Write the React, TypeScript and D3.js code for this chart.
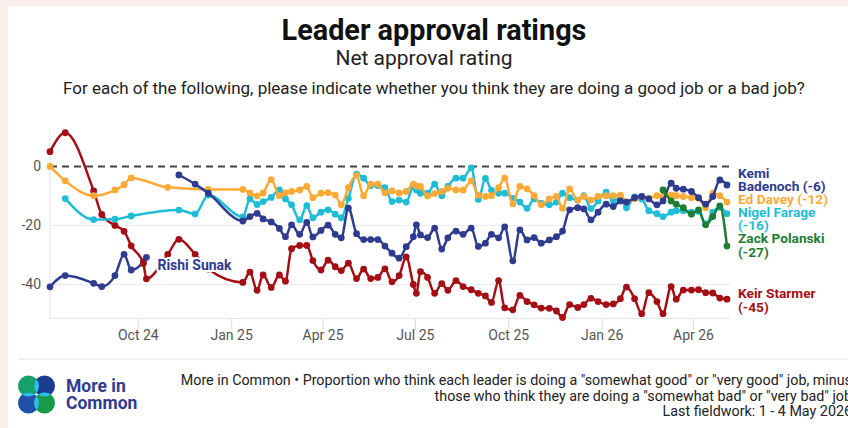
import React from "react";
import * as d3 from "d3";

// poll fieldwork dates (shared by all series)
const pollDates = [
  "2024-07-06", "2024-07-21", "2024-08-18", "2024-08-26", "2024-09-08", "2024-09-17", "2024-09-24",
  "2024-10-06", "2024-10-09", "2024-10-30", "2024-11-10", "2024-11-26", "2024-12-09",
  "2025-01-12", "2025-01-19", "2025-01-26", "2025-02-01", "2025-02-09", "2025-02-17", "2025-02-23",
  "2025-03-01", "2025-03-09", "2025-03-16", "2025-03-22", "2025-03-30", "2025-04-06", "2025-04-13",
  "2025-04-19", "2025-04-26", "2025-05-04", "2025-05-11", "2025-05-18", "2025-05-25", "2025-06-01",
  "2025-06-08", "2025-06-15", "2025-06-22", "2025-06-29", "2025-07-02", "2025-07-06", "2025-07-13",
  "2025-07-20", "2025-07-27", "2025-08-02", "2025-08-10", "2025-08-17", "2025-08-25", "2025-09-01",
  "2025-09-08", "2025-09-14", "2025-09-21", "2025-09-27", "2025-10-05", "2025-10-12", "2025-10-19",
  "2025-10-26", "2025-11-02", "2025-11-10", "2025-11-17", "2025-11-23", "2025-11-30", "2025-12-08",
  "2025-12-14", "2025-12-21", "2025-12-28", "2026-01-05", "2026-01-12", "2026-01-19", "2026-01-25",
  "2026-02-02", "2026-02-09", "2026-02-16", "2026-02-24", "2026-03-02", "2026-03-10", "2026-03-15",
  "2026-03-22", "2026-03-30", "2026-04-06", "2026-04-13", "2026-04-20", "2026-04-27", "2026-05-04",
];

const starmer = [
  5, 11.4, -8.3, -16.3, -20, -22, -26.9, -32.9, -38.1,
  -29.8, -24.7, -29.8, -34.8,
  -39.3, -35.8, -42, -36.8, -41, -36.8, -38.9, -27.9, -26.8, -26.8,
  -31.9, -35.1, -31.8, -34, -35.3, -32.8, -38, -34.8, -38, -37.6,
  -34.7, -39.1, -37, -30.7, -40, -43, -35.7, -37.6, -43, -39.7,
  -42, -38.7, -40.7, -41.8, -43, -43.9, -46.1, -38.7, -47.9, -48.6,
  -43.7, -45.8, -46.9, -48, -48.1, -49, -51.2, -46.8, -47.8, -46.8,
  -44.7, -45.8, -46.8, -46.6, -44.8, -40.9, -44.8, -49.9, -42.8, -45.8,
  -49.9, -40.7, -45, -41.9, -41.9, -41.8, -42.8, -42.9, -44.6, -45,
];

const sunak = [
  -40.8, -37, -39.6, -40.7, -37, -29.8, -35.1, -32.3, -30.8,
  ...Array(74).fill(null),
];

const badenoch = [
  null, null, null, null, null, null, null, null, null, null,
  -2.9, -6, -9.1,
  -18.5, -17, -15.9, -17.8, -18.8, -21, -23.8, -19.8, -23, -19,
  -23.9, -21.7, -19.9, -23, -24.2, -14.1, -22.8, -24.8, -24.8, -24.8,
  -27, -29.4, -31.1, -27.2, -23.8, -19.8, -23.2, -24.1, -20.9, -28,
  -24.2, -21.9, -23, -20.9, -27.1, -26, -23, -24.2, -20.5, -32,
  -21.5, -24.9, -24.1, -26, -24.9, -23.8, -21.9, -14.7, -14, -14.4,
  -18.1, -15.5, -12.8, -13.6, -11.7, -12.1, -10.6, -10.2, -11, -13,
  -11.7, -5.7, -7.4, -7.7, -8.5, -10.6, -12.8, -10.2, -4.6, -6.3,
];

const davey = [
  0, -4.9, -9.9, null, -8, -6.2, -3.9, null, null, -7.1, null, null, -7.8,
  -7.8, -9, -10, -9, -4.5, -9.9, -9, -8.5, -8, -6.8,
  -10.6, -9.1, -8.9, -9.7, -13, -7.2, -3.1, -9.9, -6, -6,
  -9, -8.3, -9, -8.5, -6, -6.6, -6.8, -10, -9.2, -8.5,
  -7.4, -8, -8, -4.9, -9.7, -10.2, -9.9, -7.2, -4, -12.7,
  -6.8, -7.6, -9.9, -13, -11, -10.2, -14.2, -7.6, -11.4, -10.2,
  -11.4, -10.2, -9.9, -9.9, -9.7, -12, -11, -10.2, -10.8, -9.9,
  -10.2, -9.7, -9.9, -10.2, -10.6, -10.8, -14, -9.1, -9.9, -12.1,
];

const farage = [
  null, -10.9, -18, null, -17.9, null, -16.8, null, null, null, -14.8, -16.1, -9.7,
  -17.1, -11, -12.9, -11.9, -10.5, -8, -11, -13, -18.1, -13.3,
  -17.4, -15.5, -14.7, -16.2, -17.4, -10.8, -2.6, -4, -6.5, -6.5,
  -7.2, -11.9, -11.4, -12.1, -6.8, -8, -9.1, -9.1, -6, -9.9,
  -6.8, -4, -4, -0.5, -11.2, -4.1, -8.1, -9.1, -9.1, -10.8,
  -12.1, -14.2, -11, -12.5, -13, -12.1, -9.1, -10.6, -11.4, -9.9,
  -14.3, -11.7, -8.7, -11.7, -10.6, -14, -10.3, -11, -15, -16,
  -17, -15.5, -15, -15, -15.5, -15.3, -19.5, -15.5, -13.9, -16,
];

const polanski = [
  ...Array(73).fill(null),
  -8, -11.7, -12.8, -14, -16.2, -14.7, -19.8, -17, -13.4, -27,
];

const xTickDates = ["2024-10-01", "2025-01-01", "2025-04-01", "2025-07-01", "2025-10-01", "2026-01-01", "2026-04-01"];
const yTicks = [0, -20, -40];

const badenochLabel = ["Kemi", "Badenoch (-6)"];
const daveyLabel = ["Ed Davey (-12)"];
const farageLabel = ["Nigel Farage", "(-16)"];
const polanskiLabel = ["Zack Polanski", "(-27)"];
const starmerLabel = ["Keir Starmer", "(-45)"];

const footerLines = [
  "More in Common \u2022 Proportion who think each leader is doing a \"somewhat good\" or \"very good\" job, minus",
  "those who think they are doing a \"somewhat bad\" or \"very bad\" job",
  "Last fieldwork: 1 - 4 May 2026",
];

const NAVY = "#2e3b8f";
const RED = "#a30f14";
const ORANGE = "#fbaa37";
const CYAN = "#1fbcd6";
const GREEN = "#1e7d32";
const FONT = "Roboto, 'Noto Sans', sans-serif";

const parse = d3.timeParse("%Y-%m-%d");

interface Pt { date: Date; value: number; }

const toPoints = (vals: (number | null)[]): Pt[] =>
  pollDates
    .map((d, i) => ({ date: parse(d) as Date, value: vals[i] as number }))
    .filter((p) => p.value !== null && p.value !== undefined);

const App = () => {
  const width = 848;
  const height = 428;
  const plot = { left: 50, right: 730, top: 131, bottom: 318.4 };

  const x = d3.scaleTime()
    .domain([parse("2024-07-06") as Date, parse("2026-05-07") as Date])
    .range([plot.left, plot.right]);
  const y = d3.scaleLinear().domain([-51.5, 12]).range([plot.bottom, plot.top]);

  const line = d3.line<Pt>()
    .x((d) => x(d.date))
    .y((d) => y(d.value))
    .curve(d3.curveMonotoneX);

  const series = [
    { key: "sunak", color: NAVY, pts: toPoints(sunak) },
    { key: "starmer", color: RED, pts: toPoints(starmer) },
    { key: "farage", color: CYAN, pts: toPoints(farage) },
    { key: "davey", color: ORANGE, pts: toPoints(davey) },
    { key: "badenoch", color: NAVY, pts: toPoints(badenoch) },
    { key: "polanski", color: GREEN, pts: toPoints(polanski) },
  ];

  const last = (vals: (number | null)[]) => vals[vals.length - 1] as number;
  const endLabels = [
    { lines: badenochLabel, color: NAVY, cy: y(last(badenoch)) - 5.5 },
    { lines: daveyLabel, color: ORANGE, cy: y(last(davey)) - 3 },
    { lines: farageLabel, color: CYAN, cy: y(last(farage)) + 5 },
    { lines: polanskiLabel, color: GREEN, cy: y(last(polanski)) - 1 },
    { lines: starmerLabel, color: RED, cy: y(last(starmer)) + 1 },
  ];
  const lh = 13.4;

  const fmt = d3.timeFormat("%b %y");
  const sunakPts = toPoints(sunak);
  const sunakEnd = sunakPts[sunakPts.length - 1];

  return (
    <svg width={width} height={height} style={{ position: "absolute", left: 0, top: 0 }} fontFamily={FONT}>
      <rect x={0} y={0} width={width} height={height} fill="#fdeeee" />
      <rect x={8} y={6} width={width - 8} height={height - 6} fill="#ffffff" />

      <text x={434} y={40} textAnchor="middle" fontSize={28.8} fontWeight={700} fill="#111">Leader approval ratings</text>
      <text x={424} y={65} textAnchor="middle" fontSize={21} fill="#222">Net approval rating</text>
      <text x={434} y={94} textAnchor="middle" fontSize={17} fill="#222">
        For each of the following, please indicate whether you think they are doing a good job or a bad job?
      </text>

      {/* grid and axes */}
      {yTicks.filter((t) => t !== 0).map((t) => (
        <line key={t} x1={plot.left} x2={plot.right} y1={y(t)} y2={y(t)} stroke="#ececec" strokeWidth={1} />
      ))}
      <line x1={plot.left} x2={plot.left} y1={plot.top} y2={plot.bottom} stroke="#e4e4e4" />
      <line x1={plot.left} x2={plot.right} y1={plot.bottom} y2={plot.bottom} stroke="#e4e4e4" />
      {yTicks.map((t) => (
        <text key={t} x={41} y={y(t) + 5} textAnchor="end" fontSize={14} fill="#555">{t}</text>
      ))}
      {xTickDates.map((d) => {
        const dt = parse(d) as Date;
        return (
          <g key={d} transform={`translate(${x(dt)},0)`}>
            <line y1={plot.bottom} y2={plot.bottom + 11} stroke="#dcdcdc" />
            <text y={340} textAnchor="middle" fontSize={14} fill="#555">{fmt(dt)}</text>
          </g>
        );
      })}
      <line x1={plot.left} x2={plot.right} y1={y(0)} y2={y(0)} stroke="#444" strokeWidth={2} strokeDasharray="7,5" />

      {/* series */}
      {series.map((s) => (
        <g key={s.key}>
          <path d={line(s.pts) || ""} fill="none" stroke={s.color} strokeWidth={2.5} strokeLinejoin="round" />
          {s.pts.map((p, i) => (
            <circle key={i} cx={x(p.date)} cy={y(p.value)} r={3.4} fill={s.color} />
          ))}
        </g>
      ))}

      <text x={x(sunakEnd.date) + 11} y={y(sunakEnd.value) + 13} fontSize={14} fontWeight={700} fill={NAVY}
        stroke="#fff" strokeWidth={4} paintOrder="stroke" strokeLinejoin="round">Rishi Sunak</text>

      {endLabels.map((l, i) => (
        <text key={i} x={738} fontSize={13.7} fontWeight={700} fill={l.color}>
          {l.lines.map((t, j) => (
            <tspan key={j} x={738} y={l.cy - ((l.lines.length - 1) * lh) / 2 + j * lh + 4.8}>{t}</tspan>
          ))}
        </text>
      ))}

      {/* footer */}
      <line x1={18} x2={width} y1={359} y2={359} stroke="#e2e2e2" />
      <g transform="translate(18,376)">
        <defs>
          <clipPath id="c-tl"><circle cx={10.5} cy={10} r={10.5} /></clipPath>
          <clipPath id="c-br"><circle cx={26.5} cy={27} r={10.5} /></clipPath>
        </defs>
        <circle cx={10.5} cy={10} r={10.5} fill="#16a06a" />
        <circle cx={26.5} cy={10} r={10.5} fill="#1c3c8f" />
        <circle cx={10.5} cy={27} r={10.5} fill="#1f4fa6" />
        <circle cx={26.5} cy={27} r={10.5} fill="#1a9a48" />
        <g clipPath="url(#c-tl)">
          <circle cx={26.5} cy={10} r={10.5} fill="#29c1e8" />
          <circle cx={10.5} cy={27} r={10.5} fill="#29c1e8" />
        </g>
        <g clipPath="url(#c-br)">
          <circle cx={26.5} cy={10} r={10.5} fill="#29c1e8" />
          <circle cx={10.5} cy={27} r={10.5} fill="#29c1e8" />
        </g>
      </g>
      <text x={66} y={392} fontSize={17.5} fontWeight={700} fill={NAVY}>More in</text>
      <text x={66} y={409} fontSize={17.5} fontWeight={700} fill={NAVY}>Common</text>
      {footerLines.map((t, i) => (
        <text key={i} x={852} y={385 + i * 15.7} textAnchor="end" fontSize={14.3} fill="#222">{t}</text>
      ))}
    </svg>
  );
};

export default App;
